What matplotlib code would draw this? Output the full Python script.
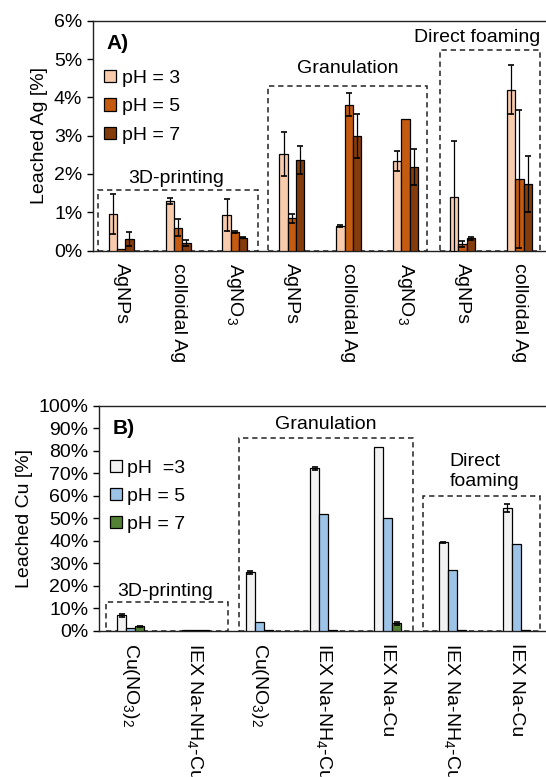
import matplotlib
matplotlib.use("Agg")
import matplotlib.pyplot as plt
import numpy as np
from matplotlib.patches import Rectangle
from matplotlib.ticker import FuncFormatter, MultipleLocator

plt.rcParams['font.family'] = ['Liberation Sans', 'DejaVu Sans']
plt.rcParams['mathtext.fontset'] = 'custom'
plt.rcParams['mathtext.rm'] = 'Liberation Sans'
plt.rcParams['mathtext.it'] = 'Liberation Sans'

# Panel A - leached Ag [%]
ag_labels = ['AgNPs', 'colloidal Ag', 'AgNO$_3$', 'AgNPs', 'colloidal Ag',
             'AgNO$_3$', 'AgNPs', 'colloidal Ag']
ag_ph3 = [0.96, 1.30, 0.93, 2.52, 0.65, 2.34, 1.41, 4.20]
ag_ph3_err = [0.52, 0.07, 0.42, 0.57, 0.03, 0.25, 1.44, 0.64]
ag_ph5 = [0.05, 0.60, 0.49, 0.84, 3.81, 3.44, 0.18, 1.86]
ag_ph5_err = [0.0, 0.22, 0.02, 0.12, 0.29, 0.0, 0.08, 1.80]
ag_ph7 = [0.30, 0.21, 0.34, 2.37, 3.00, 2.18, 0.32, 1.74]
ag_ph7_err = [0.19, 0.08, 0.02, 0.37, 0.57, 0.47, 0.03, 0.73]

# Panel B - leached Cu [%]
cu_labels = ['Cu(NO$_3$)$_2$', 'IEX Na-NH$_4$-Cu', 'Cu(NO$_3$)$_2$',
             'IEX Na-NH$_4$-Cu', 'IEX Na-Cu', 'IEX Na-NH$_4$-Cu', 'IEX Na-Cu']
cu_ph3 = [6.8, 0.2, 25.9, 72.3, 81.6, 39.3, 54.5]
cu_ph3_err = [0.6, 0.0, 0.5, 0.6, 0.0, 0.3, 1.8]
cu_ph5 = [1.4, 0.3, 3.7, 51.8, 50.3, 27.0, 38.5]
cu_ph5_err = [0.0, 0.0, 0.0, 0.0, 0.0, 0.0, 0.0]
cu_ph7 = [1.9, 0.3, 0.3, 0.5, 3.3, 0.4, 0.2]
cu_ph7_err = [0.3, 0.0, 0.0, 0.0, 0.6, 0.0, 0.0]

ag_colors = ['#F8CBAD', '#C55A11', '#843C0C']
cu_colors = ['#F2F2F2', '#9DC3E6', '#548235']

# group boxes: (x0, x1, ytop, label, label_x, label_y)
ag_boxes = [(-0.40, 2.40, 1.57, '3D-printing', 0.975, 1.87),
            (2.59, 5.38, 4.30, 'Granulation', 3.98, 4.75),
            (5.60, 7.36, 5.23, 'Direct foaming', 6.25, 5.55)]
cu_boxes = [(-0.39, 1.52, 12.6, '3D-printing', 0.53, 17.4),
            (1.69, 4.39, 85.9, 'Granulation', 3.03, 91.9),
            (4.55, 6.37, 60.1, 'Direct\nfoaming', 4.96, 70.8)]

fig = plt.figure(figsize=(5.46, 7.77), dpi=100)
axA = fig.add_axes([0.1698, 0.6774, 0.830, 0.2960])
axB = fig.add_axes([0.1808, 0.1883, 0.8192, 0.2892])


def draw_panel(ax, labels, series, errs, colors, width, legend_labels):
    x = np.arange(len(labels))
    for k, (vals, err, col) in enumerate(zip(series, errs, colors)):
        pos = x + (k - 1) * width
        ax.bar(pos, vals, width, color=col, edgecolor='black', linewidth=0.9,
               zorder=3, label=legend_labels[k])
        e = np.array(err)
        m = e > 0
        ax.errorbar(pos[m], np.array(vals)[m], yerr=e[m], fmt='none', ecolor='black',
                    elinewidth=0.9, capsize=2.5, capthick=1.2, zorder=4)
    ax.set_xticks(x)
    ax.set_xticklabels(labels, rotation=270, fontsize=14, va='top', ha='center')
    ax.tick_params(axis='x', length=0, pad=9)
    ax.tick_params(axis='y', direction='out', length=4.5, width=1, labelsize=14, pad=3)
    for s in ['left', 'bottom', 'top']:
        ax.spines[s].set_linewidth(1.0)
        ax.spines[s].set_color('#222222')
    ax.spines['right'].set_visible(False)
    ax.yaxis.set_major_formatter(FuncFormatter(lambda v, p: '{:.0f}%'.format(v)))


draw_panel(axA, ag_labels, [ag_ph3, ag_ph5, ag_ph7], [ag_ph3_err, ag_ph5_err, ag_ph7_err],
           ag_colors, 0.146, ['pH = 3', 'pH = 5', 'pH = 7'])
axA.set_xlim(-0.5, 7.466)
axA.set_ylim(0, 6)
axA.yaxis.set_major_locator(MultipleLocator(1))
axA.set_ylabel('Leached Ag [%]', fontsize=14, labelpad=4)

draw_panel(axB, cu_labels, [cu_ph3, cu_ph5, cu_ph7], [cu_ph3_err, cu_ph5_err, cu_ph7_err],
           cu_colors, 0.14, ['pH  =3', 'pH = 5', 'pH = 7'])
axB.set_xlim(-0.5, 6.462)
axB.set_ylim(0, 100)
axB.yaxis.set_major_locator(MultipleLocator(10))
axB.set_ylabel('Leached Cu [%]', fontsize=14, labelpad=4)

for ax, boxes in [(axA, ag_boxes), (axB, cu_boxes)]:
    for x0, x1, ytop, txt, tx, ty in boxes:
        ax.add_patch(Rectangle((x0, 0), x1 - x0, ytop, fill=False, edgecolor='#222222',
                               linewidth=1.1, linestyle=(0, (3.5, 2.5)), zorder=2,
                               clip_on=False))
        if '\n' in txt:
            ax.text(tx, ty, txt, fontsize=14, ha='left', va='center', linespacing=1.25)
        else:
            ax.text(tx, ty, txt, fontsize=14, ha='center', va='center')

axA.text(0.031, 0.899, 'A)', transform=axA.transAxes, fontsize=15, fontweight='bold',
         ha='left', va='center')
axB.text(0.031, 0.898, 'B)', transform=axB.transAxes, fontsize=15, fontweight='bold',
         ha='left', va='center')

axA.legend(loc='upper left', bbox_to_anchor=(0.025, 0.785), frameon=False, fontsize=14,
           handlelength=0.6, handleheight=0.6, handletextpad=0.3, labelspacing=0.58,
           borderpad=0, borderaxespad=0)
axB.legend(loc='upper left', bbox_to_anchor=(0.025, 0.759), frameon=False, fontsize=14,
           handlelength=0.6, handleheight=0.6, handletextpad=0.3, labelspacing=0.55,
           borderpad=0, borderaxespad=0)

fig.savefig('out.png', dpi=100)
